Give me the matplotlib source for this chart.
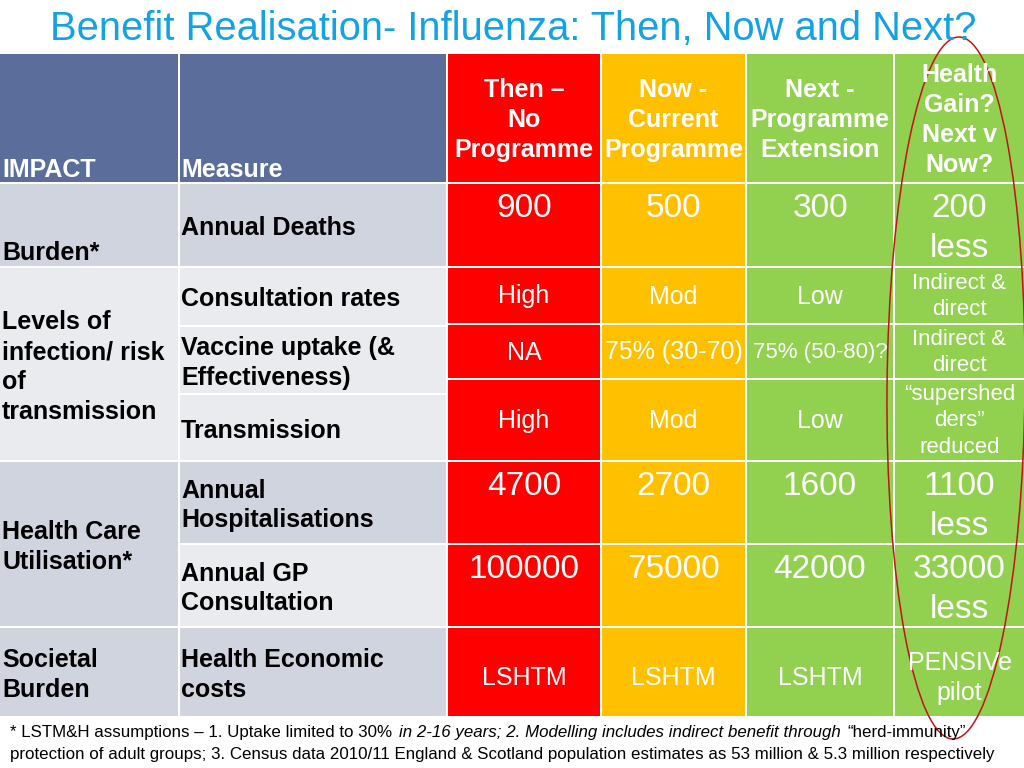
import matplotlib.pyplot as plt
from matplotlib.patches import Rectangle, Ellipse

plt.rcParams['font.family'] = ['Liberation Sans', 'DejaVu Sans']

title = "Benefit Realisation- Influenza: Then, Now and Next?"

head_left = ["IMPACT", "Measure"]
columns = ["Then –\nNo\nProgramme", "Now -\nCurrent\nProgramme",
           "Next -\nProgramme\nExtension", "Health\nGain?\nNext v\nNow?"]

impact = ["Burden*", "Levels of\ninfection/ risk\nof\ntransmission",
          "Health Care\nUtilisation*", "Societal\nBurden"]
impact_rows = [(0, 0), (1, 3), (4, 5), (6, 6)]

measures = ["Annual Deaths", "Consultation rates", "Vaccine uptake (&\nEffectiveness)",
            "Transmission", "Annual\nHospitalisations", "Annual GP\nConsultation",
            "Health Economic\ncosts"]

then_vals = ["900", "High", "NA", "High", "4700", "100000", "LSHTM"]
now_vals = ["500", "Mod", "75% (30-70)", "Mod", "2700", "75000", "LSHTM"]
next_vals = ["300", "Low", "75% (50-80)?", "Low", "1600", "42000", "LSHTM"]
gain_vals = ["200\nless", "Indirect &\ndirect", "Indirect &\ndirect",
             "“supershed\nders”\nreduced", "1100\nless", "33000\nless", "PENSIVe\npilot"]

footnote_1 = "* LSTM&H assumptions – 1. Uptake limited to 30%"
footnote_1i = "in 2-16 years; 2. Modelling includes indirect benefit through"
footnote_1e = "“herd-immunity”"
footnote_2 = ("protection of adult groups; 3. Census data 2010/11 England & Scotland "
              "population estimates as 53 million & 5.3 million respectively")

# layout (pixels)
col_x = [(0, 178), (180, 446), (448, 600), (602, 745), (747, 893), (895, 1024)]
head_y = (54, 182)
measure_y = [(184, 266), (268, 325), (327, 393), (395, 460), (462, 543), (545, 626), (628, 716)]
data_y = [(184, 266), (268, 323), (325, 378), (380, 460), (462, 543), (545, 626), (628, 716)]
big_rows = [0, 4, 5]

slate = "#5B6E9B"
dark_band = "#CFD4DF"
light_band = "#E9EBEF"
measure_colors = [dark_band, light_band, light_band, light_band, dark_band, light_band, dark_band]
impact_colors = [dark_band, light_band, dark_band, dark_band]
data_colors = ["#FF0000", "#FFC000", "#92D050", "#92D050"]

fig = plt.figure(figsize=(10.24, 7.68), dpi=100)
ax = fig.add_axes([0, 0, 1, 1])
ax.set_xlim(0, 1024)
ax.set_ylim(768, 0)
ax.axis('off')


def cell(x, y, color):
    ax.add_patch(Rectangle((x[0], y[0]), x[1] - x[0], y[1] - y[0], facecolor=color, edgecolor='none'))


ax.text(50, 29, title, fontsize=28.7, color="#14A2E2", va='center', ha='left')

# header row
cell(col_x[0], head_y, slate)
cell(col_x[1], head_y, slate)
ax.text(2, 170, head_left[0], fontsize=18, weight='bold', color='white', va='center')
ax.text(181, 170, head_left[1], fontsize=18, weight='bold', color='white', va='center')
for j, label in enumerate(columns):
    x = col_x[j + 2]
    cell(x, head_y, data_colors[j])
    ax.text((x[0] + x[1]) / 2, 120, label, fontsize=18, weight='bold', color='white',
            ha='center', va='center', linespacing=1.3)

# impact column
for i, (r0, r1) in enumerate(impact_rows):
    y = (measure_y[r0][0], measure_y[r1][1])
    cell(col_x[0], y, impact_colors[i])
    if i == 0:
        ax.text(2, 253, impact[i], fontsize=18, weight='bold', va='center')
    else:
        ax.text(2, (y[0] + y[1]) / 2 + 3, impact[i], fontsize=18, weight='bold',
                va='center', linespacing=1.3)

# measure column
for i, label in enumerate(measures):
    y = measure_y[i]
    cell(col_x[1], y, measure_colors[i])
    ax.text(181, (y[0] + y[1]) / 2 + 3, label, fontsize=18, weight='bold',
            va='center', linespacing=1.3)

# data columns
for j, vals in enumerate([then_vals, now_vals, next_vals, gain_vals]):
    x = col_x[j + 2]
    xc = (x[0] + x[1]) / 2
    for i, v in enumerate(vals):
        y = data_y[i]
        cell(x, y, data_colors[j])
        if i in big_rows:
            ax.text(xc, y[0] + 9, v, fontsize=24, color='white', ha='center', va='top',
                    linespacing=1.38)
        else:
            size, spacing = 18, 1.3
            if (j == 3 and i in (1, 2, 3)) or (j == 2 and i == 2):
                size, spacing = 16, 1.32
            yc = (y[0] + y[1]) / 2 + (6 if i == 6 else 1)
            ax.text(xc, yc, v, fontsize=size, color='white', ha='center', va='center',
                    linespacing=spacing)

# red ellipse around the health gain column
ax.add_patch(Ellipse((956, 388), 138, 702, angle=0.5, facecolor='none',
                     edgecolor='#C0141B', linewidth=1.1))

# footnote
foot_size = 12.2
t1 = ax.text(10, 733, footnote_1, fontsize=foot_size, va='center')
t2 = ax.annotate(footnote_1i, xy=(1, 0.5), xycoords=t1, xytext=(5, 0), textcoords='offset points',
                 fontsize=foot_size, style='italic', va='center')
ax.annotate(footnote_1e, xy=(1, 0.5), xycoords=t2, xytext=(5, 0), textcoords='offset points',
            fontsize=foot_size, va='center')
ax.text(10, 755, footnote_2, fontsize=foot_size, va='center')

fig.savefig("out.png", dpi=100)
